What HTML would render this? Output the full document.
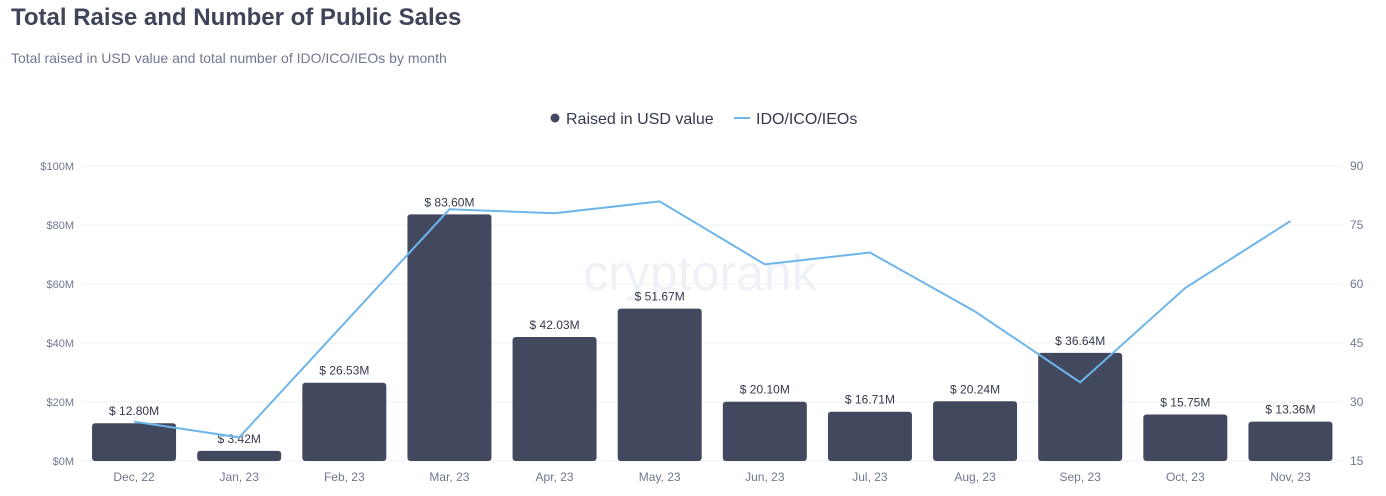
<!DOCTYPE html>
<html><head><meta charset="utf-8"><style>
body{margin:0;width:1386px;height:496px;background:#fff;font-family:"Liberation Sans",sans-serif;overflow:hidden}
#title{position:absolute;left:11px;top:4px;font-size:24px;font-weight:bold;color:#3f4459;margin:0}
#sub{position:absolute;left:11px;top:50px;font-size:14px;color:#6f7890}
svg{position:absolute;left:0;top:0}
</style></head><body>
<h1 id="title">Total Raise and Number of Public Sales</h1>
<div id="sub">Total raised in USD value and total number of IDO/ICO/IEOs by month</div>
<svg id="chart" width="1386" height="496"></svg>
<script>
const categories=["Dec, 22","Jan, 23","Feb, 23","Mar, 23","Apr, 23","May, 23","Jun, 23","Jul, 23","Aug, 23","Sep, 23","Oct, 23","Nov, 23"];
const raised=[12.80,3.42,26.53,83.60,42.03,51.67,20.10,16.71,20.24,36.64,15.75,13.36];
const sales=[25,21,50,79,78,81,65,68,53,35,59,76];
const leftTicks=[0,20,40,60,80,100];
const rightTicks=[15,30,45,60,75,90];
const NS="http://www.w3.org/2000/svg";
const svg=document.getElementById('chart');
const L=81.5,R=1343,T=166,B=461;
const step=(R-L)/categories.length;
const xc=i=>L+step*(i+0.5);
const yL=v=>B-(v/100)*(B-T);
const yR=v=>B-((v-15)/75)*(B-T);
function mk(tag,a,txt){const e=document.createElementNS(NS,tag);for(const k in a)e.setAttribute(k,a[k]);if(txt!=null)e.textContent=txt;svg.appendChild(e);return e;}
// watermark
const wm=mk('text',{x:700,y:290,'font-size':50,fill:'#eef2f7','text-anchor':'middle','font-family':'Liberation Sans, sans-serif'},'cryptorank');


leftTicks.forEach((t,i)=>{
 const y=yL(t);
 const g=mk('line',{x1:L,x2:R,y1:y,y2:y,stroke:'#eef0f3','stroke-width':1});
 
 
 const lt=mk('text',{x:74,y:y+4,'font-size':11,fill:'#6f7890','text-anchor':'end'},'$'+t+'M');
 
 
 const rt=mk('text',{x:1350,y:yR(rightTicks[i])+4,'font-size':12,fill:'#6f7890'},rightTicks[i]);
 
 
});
const bw=84;
categories.forEach((c,i)=>{
 const x=xc(i),y=yL(raised[i]);
 const b=mk('rect',{x:x-bw/2,y:y,width:bw,height:B-y,rx:3,fill:'#42495e'});
 
 
 const lb=mk('text',{x:x,y:y-8,'font-size':12,fill:'#333a4d','text-anchor':'middle'},'$ '+raised[i].toFixed(2)+'M');
 
 
 const xl=mk('text',{x:x,y:481,'font-size':12,fill:'#6f7890','text-anchor':'middle'},c);
 
 
});
const pl=mk('polyline',{points:sales.map((v,i)=>xc(i)+','+yR(v)).join(' '),fill:'none',stroke:'#6db5ea','stroke-width':2});


// legend
const lc=mk('circle',{cx:555,cy:118,r:4.5,fill:'#42495e'});


const lt1=mk('text',{x:566,y:124,'font-size':16,fill:'#333a4d'},'Raised in USD value');


const ll=mk('line',{x1:734,x2:750,y1:118,y2:118,stroke:'#6db5ea','stroke-width':2});


const lt2=mk('text',{x:756,y:124,'font-size':16,fill:'#333a4d'},'IDO/ICO/IEOs');


</script>
</body></html>
